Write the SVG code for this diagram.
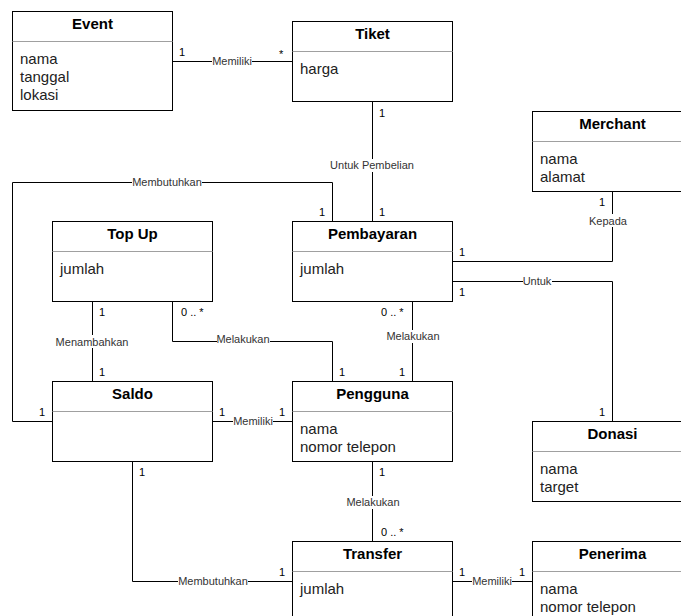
<svg xmlns="http://www.w3.org/2000/svg" width="681" height="616" viewBox="0 0 681 616">
<style>
.box{fill:#fff;stroke:#000;stroke-width:1}
.sep{stroke:#a0a0a0;stroke-width:1}
.title{font-family:"Liberation Sans",Arial,Helvetica,sans-serif;font-size:15px;font-weight:bold;text-anchor:middle;fill:#000}
.attr{font-family:"Liberation Sans",Arial,Helvetica,sans-serif;font-size:15px;fill:#222}
.edge{fill:none;stroke:#000;stroke-width:1}
.lbl{font-family:"Liberation Sans",Arial,Helvetica,sans-serif;font-size:11px;text-anchor:middle;fill:#333}
.m{font-family:"Liberation Sans",Arial,Helvetica,sans-serif;font-size:11px;fill:#000}
.bg{fill:#fff}
</style>
<rect width="681" height="616" fill="#fff"/>
<g id="connectors">
  <path class="edge" d="M172.5 61.5H292.5"/>
  <path class="edge" d="M372.5 101.5V221.5"/>
  <path class="edge" d="M332.5 221.5V182.5H12.5V421.5H52.5"/>
  <path class="edge" d="M452.5 261.5H612.5V191.5"/>
  <path class="edge" d="M452.5 281.5H612.5V421.5"/>
  <path class="edge" d="M92.5 301.5V381.5"/>
  <path class="edge" d="M172.5 301.5V341.5H332.5V381.5"/>
  <path class="edge" d="M412.5 301.5V381.5"/>
  <path class="edge" d="M212.5 421.5H292.5"/>
  <path class="edge" d="M132.5 461.5V581.5H292.5"/>
  <path class="edge" d="M372.5 461.5V541.5"/>
  <path class="edge" d="M452.5 581.5H532.5"/>
  <!-- labels -->
  <rect class="bg" x="212" y="55" width="40" height="13"/><text class="lbl" x="232" y="65">Memiliki</text>
  <rect class="bg" x="330" y="159" width="84" height="13"/><text class="lbl" x="372" y="169">Untuk Pembelian</text>
  <rect class="bg" x="132" y="176" width="70" height="13"/><text class="lbl" x="167" y="186">Membutuhkan</text>
  <rect class="bg" x="589" y="214" width="38" height="13"/><text class="lbl" x="608" y="225">Kepada</text>
  <rect class="bg" x="523" y="275" width="29" height="13"/><text class="lbl" x="537" y="285">Untuk</text>
  <rect class="bg" x="56" y="335" width="73" height="13"/><text class="lbl" x="92" y="346">Menambahkan</text>
  <rect class="bg" x="217" y="333" width="53" height="13"/><text class="lbl" x="243" y="343">Melakukan</text>
  <rect class="bg" x="386" y="330" width="54" height="13"/><text class="lbl" x="413" y="340">Melakukan</text>
  <rect class="bg" x="233" y="415" width="40" height="13"/><text class="lbl" x="253" y="425">Memiliki</text>
  <rect class="bg" x="178" y="575" width="70" height="13"/><text class="lbl" x="213" y="585">Membutuhkan</text>
  <rect class="bg" x="346" y="496" width="54" height="13"/><text class="lbl" x="373" y="506">Melakukan</text>
  <rect class="bg" x="472" y="575" width="40" height="13"/><text class="lbl" x="492" y="585">Memiliki</text>
  <!-- multiplicities -->
  <text class="m" x="179" y="56">1</text>
  <text class="m" x="279" y="58">*</text>
  <text class="m" x="379" y="117">1</text>
  <text class="m" x="379" y="216">1</text>
  <text class="m" x="319" y="216">1</text>
  <text class="m" x="39" y="416">1</text>
  <text class="m" x="459" y="256">1</text>
  <text class="m" x="599" y="206">1</text>
  <text class="m" x="459" y="296">1</text>
  <text class="m" x="599" y="416">1</text>
  <text class="m" x="99" y="316">1</text>
  <text class="m" x="99" y="376">1</text>
  <text class="m" x="181" y="316">0 .. *</text>
  <text class="m" x="339" y="376">1</text>
  <text class="m" x="381" y="316">0 .. *</text>
  <text class="m" x="399" y="376">1</text>
  <text class="m" x="219" y="416">1</text>
  <text class="m" x="279" y="416">1</text>
  <text class="m" x="139" y="476">1</text>
  <text class="m" x="279" y="576">1</text>
  <text class="m" x="379" y="476">1</text>
  <text class="m" x="381" y="536">0 .. *</text>
  <text class="m" x="459" y="576">1</text>
  <text class="m" x="519" y="576">1</text>
</g>
<g id="event">
  <rect class="box" x="12.5" y="11.5" width="160" height="99"/>
  <line class="sep" x1="12.5" y1="41.5" x2="172.5" y2="41.5"/>
  <text class="title" x="92.5" y="29">Event</text>
  <text class="attr" x="20" y="64">nama</text>
  <text class="attr" x="20" y="82">tanggal</text>
  <text class="attr" x="20" y="100">lokasi</text>
</g>
<g id="tiket">
  <rect class="box" x="292.5" y="21.5" width="160" height="80"/>
  <line class="sep" x1="292.5" y1="51.5" x2="452.5" y2="51.5"/>
  <text class="title" x="372.5" y="39">Tiket</text>
  <text class="attr" x="300" y="74">harga</text>
</g>
<g id="merchant">
  <rect class="box" x="532.5" y="111.5" width="160" height="80"/>
  <line class="sep" x1="532.5" y1="141.5" x2="692.5" y2="141.5"/>
  <text class="title" x="612.5" y="129">Merchant</text>
  <text class="attr" x="540" y="164">nama</text>
  <text class="attr" x="540" y="182">alamat</text>
</g>
<g id="topup">
  <rect class="box" x="52.5" y="221.5" width="160" height="80"/>
  <line class="sep" x1="52.5" y1="251.5" x2="212.5" y2="251.5"/>
  <text class="title" x="132.5" y="239">Top Up</text>
  <text class="attr" x="60" y="274">jumlah</text>
</g>
<g id="pembayaran">
  <rect class="box" x="292.5" y="221.5" width="160" height="80"/>
  <line class="sep" x1="292.5" y1="251.5" x2="452.5" y2="251.5"/>
  <text class="title" x="372.5" y="239">Pembayaran</text>
  <text class="attr" x="300" y="274">jumlah</text>
</g>
<g id="saldo">
  <rect class="box" x="52.5" y="381.5" width="160" height="80"/>
  <line class="sep" x1="52.5" y1="411.5" x2="212.5" y2="411.5"/>
  <text class="title" x="132.5" y="399">Saldo</text>
</g>
<g id="pengguna">
  <rect class="box" x="292.5" y="381.5" width="160" height="80"/>
  <line class="sep" x1="292.5" y1="411.5" x2="452.5" y2="411.5"/>
  <text class="title" x="372.5" y="399">Pengguna</text>
  <text class="attr" x="300" y="434">nama</text>
  <text class="attr" x="300" y="452">nomor telepon</text>
</g>
<g id="donasi">
  <rect class="box" x="532.5" y="421.5" width="160" height="80"/>
  <line class="sep" x1="532.5" y1="451.5" x2="692.5" y2="451.5"/>
  <text class="title" x="612.5" y="439">Donasi</text>
  <text class="attr" x="540" y="474">nama</text>
  <text class="attr" x="540" y="492">target</text>
</g>
<g id="transfer">
  <rect class="box" x="292.5" y="541.5" width="160" height="80"/>
  <line class="sep" x1="292.5" y1="571.5" x2="452.5" y2="571.5"/>
  <text class="title" x="372.5" y="559">Transfer</text>
  <text class="attr" x="300" y="594">jumlah</text>
</g>
<g id="penerima">
  <rect class="box" x="532.5" y="541.5" width="160" height="80"/>
  <line class="sep" x1="532.5" y1="571.5" x2="692.5" y2="571.5"/>
  <text class="title" x="612.5" y="559">Penerima</text>
  <text class="attr" x="540" y="594">nama</text>
  <text class="attr" x="540" y="612">nomor telepon</text>
</g>
</svg>
